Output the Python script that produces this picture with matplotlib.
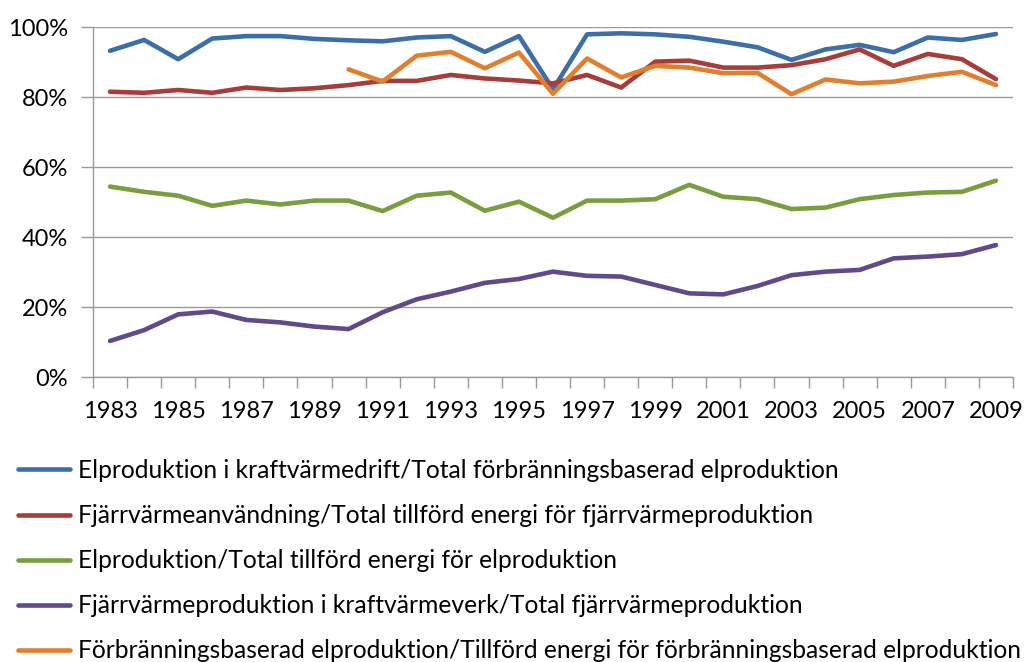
import matplotlib.pyplot as plt
from matplotlib.ticker import FixedLocator, FuncFormatter

# Data (percent)
years = list(range(1983, 2010))

el_kraftvarme = [93.2, 96.3, 90.8, 96.7, 97.4, 97.4, 96.6, 96.2, 95.9, 97.0,
                 97.4, 92.9, 97.4, 82.2, 97.9, 98.2, 97.9, 97.2, 95.8, 94.2,
                 90.6, 93.6, 94.9, 92.8, 97.0, 96.3, 98.0]
fjv_anvandning = [81.5, 81.2, 82.0, 81.2, 82.7, 82.0, 82.5, 83.4, 84.6, 84.6,
                  86.3, 85.3, 84.7, 83.9, 86.3, 82.7, 90.1, 90.4, 88.4, 88.4,
                  89.1, 90.8, 93.6, 88.9, 92.3, 90.8, 85.1]
el_total = [54.4, 52.9, 51.8, 48.9, 50.4, 49.3, 50.4, 50.4, 47.4, 51.8,
            52.7, 47.5, 50.1, 45.5, 50.4, 50.4, 50.8, 54.9, 51.5, 50.8,
            48.0, 48.4, 50.8, 52.0, 52.7, 52.9, 56.1]
fjv_kraftvarmeverk = [10.3, 13.4, 17.9, 18.7, 16.3, 15.6, 14.4, 13.7, 18.5, 22.2,
                      24.4, 26.9, 28.0, 30.1, 28.9, 28.7, 26.3, 23.9, 23.6, 26.0,
                      29.1, 30.1, 30.6, 33.9, 34.4, 35.1, 37.7]
# starts in 1990
forbr_years = list(range(1990, 2010))
forbr_el = [87.9, 84.4, 91.8, 92.9, 88.2, 92.7, 80.9, 91.0, 85.6, 88.9,
            88.4, 86.8, 86.9, 80.8, 85.0, 83.9, 84.4, 86.0, 87.2, 83.4]

labels = [
    "Elproduktion i kraftvärmedrift/Total förbränningsbaserad elproduktion",
    "Fjärrvärmeanvändning/Total tillförd energi för fjärrvärmeproduktion",
    "Elproduktion/Total tillförd energi för elproduktion",
    "Fjärrvärmeproduktion i kraftvärmeverk/Total fjärrvärmeproduktion",
    "Förbränningsbaserad elproduktion/Tillförd energi för förbränningsbaserad elproduktion",
]
colors = ["#3d6ea8", "#a73c3a", "#7a9e3f", "#604a8c", "#e07f2e"]

plt.rcParams['font.family'] = ['Lato', 'DejaVu Sans']

fig = plt.figure(figsize=(10.35, 6.62), dpi=100)
ax = fig.add_axes([93 / 1035, 1 - 377 / 662, 920 / 1035, 350 / 662])

idx = list(range(len(years)))
series = [el_kraftvarme, fjv_anvandning, el_total, fjv_kraftvarmeverk]
handles = []
for vals, c, lab in zip(series, colors[:4], labels[:4]):
    h, = ax.plot(idx, vals, color=c, lw=3.3, label=lab, solid_capstyle='round')
    handles.append(h)
forbr_idx = [years.index(y) for y in forbr_years]
h, = ax.plot(forbr_idx, forbr_el, color=colors[4], lw=3.3, label=labels[4],
             solid_capstyle='round')
handles.append(h)

ax.set_xlim(-0.5, len(years) - 0.5)
ax.set_ylim(0, 100)

grey = "#9a9a9a"
ax.set_yticks([0, 20, 40, 60, 80, 100])
ax.yaxis.set_major_formatter(FuncFormatter(lambda v, p: f"{int(v)}%"))
ax.grid(axis='y', color=grey, lw=1)
ax.set_axisbelow(True)

# ticks at category boundaries, labels every other year
ax.xaxis.set_major_locator(FixedLocator([i - 0.5 for i in range(len(years) + 1)]))
ax.xaxis.set_major_formatter(FuncFormatter(lambda v, p: ""))
ax.xaxis.set_minor_locator(FixedLocator(idx[::2]))
ax.set_xticklabels([str(y) for y in years[::2]], minor=True)
ax.tick_params(axis='x', which='major', length=8, color=grey, width=1)
ax.tick_params(axis='x', which='minor', length=0, pad=17, labelsize=17)
ax.tick_params(axis='y', length=9, color=grey, width=1, labelsize=17, pad=9)

for s in ['top', 'right']:
    ax.spines[s].set_visible(False)
for s in ['left', 'bottom']:
    ax.spines[s].set_color(grey)
    ax.spines[s].set_linewidth(1)

fig.legend(handles=handles, loc='upper left', bbox_to_anchor=(18 / 1035, 1 - 459 / 662),
           frameon=False, fontsize=17.7, borderpad=0, borderaxespad=0,
           handlelength=2.1, handletextpad=0.33, labelspacing=0.9)

fig.savefig("out.png", dpi=100)
